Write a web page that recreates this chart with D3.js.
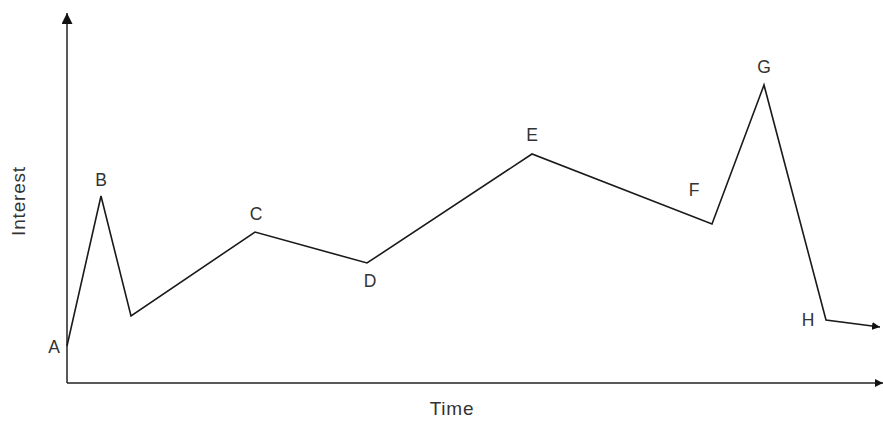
<!DOCTYPE html>
<html><head><meta charset="utf-8">
<script src="https://cdn.jsdelivr.net/npm/d3@7"></script>
<style>body{margin:0;background:#fff}svg{display:block}</style>
</head><body>
<script>
const labels = ["A","B","","C","D","E","F","G","H",""];
const times = [0, 34, 64, 188, 300, 465, 645, 697, 759, 813];
const interest = [37, 187, 67, 151, 120, 229, 159, 298, 63, 56];
const labelDx = [-13, 0, 0, 1, 3, 0, -18, 0, -18, 0];
const labelDy = [2, -15, 0, -17, 19, -18, -33, -17, 1, 0];
const xTitle = "Time", yTitle = "Interest";

const W = 883, H = 423;
const svg = d3.select("body").append("svg").attr("width", W).attr("height", H);
const x = d3.scaleLinear().domain([0, 816]).range([67, 883]);
const y = d3.scaleLinear().domain([0, 370]).range([383, 13]);

const defs = svg.append("defs");
defs.append("marker").attr("id","arr").attr("viewBox","0 0 10 10").attr("refX",10).attr("refY",5)
  .attr("markerWidth",8).attr("markerHeight",8).attr("markerUnits","userSpaceOnUse").attr("orient","auto")
  .append("path").attr("d","M0,0L10,5L0,10Z").attr("fill","#111");
defs.append("marker").attr("id","arr2").attr("viewBox","0 0 10 10").attr("refX",10).attr("refY",5)
  .attr("markerWidth",11).attr("markerHeight",11).attr("markerUnits","userSpaceOnUse").attr("orient","auto")
  .append("path").attr("d","M0,0L10,5L0,10Z").attr("fill","#111");

// axes
svg.append("line").attr("x1",x(0)).attr("y1",y(0)).attr("x2",x(816)).attr("y2",y(0))
  .attr("stroke","#222").attr("stroke-width",1.5).attr("marker-end","url(#arr)");
svg.append("line").attr("x1",x(0)).attr("y1",y(0)).attr("x2",x(0)).attr("y2",y(370))
  .attr("stroke","#222").attr("stroke-width",1.5).attr("marker-end","url(#arr2)");

const data = times.map((t,i)=>({t, v: interest[i], l: labels[i], dx: labelDx[i], dy: labelDy[i]}));
const line = d3.line().x(d=>x(d.t)).y(d=>y(d.v));
svg.append("path").datum(data).attr("d", line).attr("fill","none")
  .attr("stroke","#1a1a1a").attr("stroke-width",1.6).attr("stroke-linejoin","miter")
  .attr("marker-end","url(#arr)");

svg.selectAll("text.pt").data(data.filter(d=>d.l)).enter().append("text")
  .attr("class","pt").attr("x",d=>x(d.t)+d.dx).attr("y",d=>y(d.v)+d.dy)
  .attr("text-anchor","middle").attr("dominant-baseline","middle")
  .attr("font-family","Liberation Sans, Arial, sans-serif").attr("font-size",17.5).attr("fill","#333")
  .text(d=>d.l);

svg.append("text").attr("x",452).attr("y",410).attr("text-anchor","middle").attr("dominant-baseline","middle")
  .attr("font-family","Liberation Sans, Arial, sans-serif").attr("font-size",19).attr("letter-spacing",0.8)
  .attr("fill","#333").text(xTitle);
svg.append("text").attr("transform","translate(20,201) rotate(-90)").attr("text-anchor","middle").attr("dominant-baseline","middle")
  .attr("font-family","Liberation Sans, Arial, sans-serif").attr("font-size",19).attr("letter-spacing",0.8)
  .attr("fill","#333").text(yTitle);
</script>
</body></html>
